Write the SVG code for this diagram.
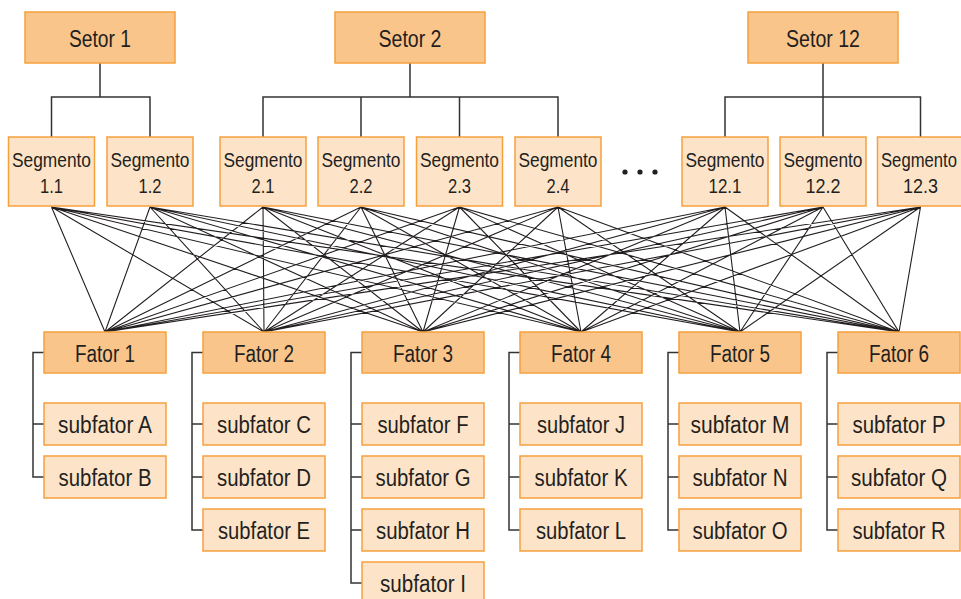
<svg xmlns="http://www.w3.org/2000/svg" width="961" height="599" viewBox="0 0 961 599">
<style>
.dk{fill:#FAC58B;stroke:#F6A03C;stroke-width:1.5}
.lt{fill:#FDE4C8;stroke:#F6A03C;stroke-width:1.5}
text{font-family:"Liberation Sans",Arial,sans-serif;fill:#231F20;text-anchor:middle}
.h{font-size:23.5px}
.s{font-size:21px}
.f{font-size:23px}
.tree{fill:none;stroke:#333;stroke-width:1.5}
.web{fill:none;stroke:#231F20;stroke-width:1.1}
</style>
<rect width="961" height="599" fill="#fff"/>
<g id="connectors">
<path class="tree" d="M100,63V97M51.5,137V97H150V137M410,63V97M263,137V97H558V137M361,97V137M459.5,97V137M823,63V97M725,137V97H920.5V137M823,97V137"/>
<path class="tree" d="M44,352.5H33V477H44M33,424H44
M203,352.5H192V530H203M192,424H203M192,477H203
M362,352.5H351V583H362M351,424H362M351,477H362M351,530H362
M520,352.5H509V530H520M509,424H520M509,477H520
M679,352.5H668V530H679M668,424H679M668,477H679
M838,352.5H827V530H838M827,424H838M827,477H838"/>
<path class="web" d="M51.5,207L105,332M51.5,207L264,332M51.5,207L423,332M51.5,207L581,332M51.5,207L740,332M51.5,207L899,332
M150,207L105,332M150,207L264,332M150,207L423,332M150,207L581,332M150,207L740,332M150,207L899,332
M263,207L105,332M263,207L264,332M263,207L423,332M263,207L581,332M263,207L740,332M263,207L899,332
M361,207L105,332M361,207L264,332M361,207L423,332M361,207L581,332M361,207L740,332M361,207L899,332
M459.5,207L105,332M459.5,207L264,332M459.5,207L423,332M459.5,207L581,332M459.5,207L740,332M459.5,207L899,332
M558,207L105,332M558,207L264,332M558,207L423,332M558,207L581,332M558,207L740,332M558,207L899,332
M725,207L105,332M725,207L264,332M725,207L423,332M725,207L581,332M725,207L740,332M725,207L899,332
M823,207L105,332M823,207L264,332M823,207L423,332M823,207L581,332M823,207L740,332M823,207L899,332
M920.5,207L105,332M920.5,207L264,332M920.5,207L423,332M920.5,207L581,332M920.5,207L740,332M920.5,207L899,332"/>
</g>
<g id="setor1"><rect class="dk" x="25" y="12" width="150" height="51"/><text class="h" x="100" y="47" textLength="62" lengthAdjust="spacingAndGlyphs">Setor 1</text></g>
<g id="setor2"><rect class="dk" x="335" y="12" width="150" height="51"/><text class="h" x="410" y="47" textLength="63" lengthAdjust="spacingAndGlyphs">Setor 2</text></g>
<g id="setor12"><rect class="dk" x="748" y="12" width="150" height="51"/><text class="h" x="823" y="47" textLength="74" lengthAdjust="spacingAndGlyphs">Setor 12</text></g>

<g id="seg1-1"><rect class="lt" x="8.5" y="137" width="86" height="69"/><text class="s" x="51.5" y="167" textLength="79" lengthAdjust="spacingAndGlyphs">Segmento</text><text class="s" x="51.5" y="193" textLength="23" lengthAdjust="spacingAndGlyphs">1.1</text></g>
<g id="seg1-2"><rect class="lt" x="107" y="137" width="86" height="69"/><text class="s" x="150" y="167" textLength="79" lengthAdjust="spacingAndGlyphs">Segmento</text><text class="s" x="150" y="193" textLength="23" lengthAdjust="spacingAndGlyphs">1.2</text></g>
<g id="seg2-1"><rect class="lt" x="220" y="137" width="86" height="69"/><text class="s" x="263" y="167" textLength="79" lengthAdjust="spacingAndGlyphs">Segmento</text><text class="s" x="263" y="193" textLength="23" lengthAdjust="spacingAndGlyphs">2.1</text></g>
<g id="seg2-2"><rect class="lt" x="318" y="137" width="86" height="69"/><text class="s" x="361" y="167" textLength="79" lengthAdjust="spacingAndGlyphs">Segmento</text><text class="s" x="361" y="193" textLength="23" lengthAdjust="spacingAndGlyphs">2.2</text></g>
<g id="seg2-3"><rect class="lt" x="416.5" y="137" width="86" height="69"/><text class="s" x="459.5" y="167" textLength="79" lengthAdjust="spacingAndGlyphs">Segmento</text><text class="s" x="459.5" y="193" textLength="23" lengthAdjust="spacingAndGlyphs">2.3</text></g>
<g id="seg2-4"><rect class="lt" x="515" y="137" width="86" height="69"/><text class="s" x="558" y="167" textLength="79" lengthAdjust="spacingAndGlyphs">Segmento</text><text class="s" x="558" y="193" textLength="23" lengthAdjust="spacingAndGlyphs">2.4</text></g>
<g id="ellipsis"><circle cx="625" cy="172" r="2.6" fill="#231F20"/><circle cx="640" cy="172" r="2.6" fill="#231F20"/><circle cx="655" cy="172" r="2.6" fill="#231F20"/></g>
<g id="seg12-1"><rect class="lt" x="682" y="137" width="86" height="69"/><text class="s" x="725" y="167" textLength="79" lengthAdjust="spacingAndGlyphs">Segmento</text><text class="s" x="725" y="193" textLength="33" lengthAdjust="spacingAndGlyphs">12.1</text></g>
<g id="seg12-2"><rect class="lt" x="780" y="137" width="86" height="69"/><text class="s" x="823" y="167" textLength="79" lengthAdjust="spacingAndGlyphs">Segmento</text><text class="s" x="823" y="193" textLength="35" lengthAdjust="spacingAndGlyphs">12.2</text></g>
<g id="seg12-3"><rect class="lt" x="877.5" y="137" width="86" height="69"/><text class="s" x="919" y="167" textLength="76" lengthAdjust="spacingAndGlyphs">Segmento</text><text class="s" x="920.5" y="193" textLength="35" lengthAdjust="spacingAndGlyphs">12.3</text></g>

<g id="fator1"><rect class="dk" x="44" y="332" width="122" height="41"/><text class="h" x="105" y="362" textLength="60" lengthAdjust="spacingAndGlyphs">Fator 1</text></g>
<g id="fator2"><rect class="dk" x="203" y="332" width="122" height="41"/><text class="h" x="264" y="362" textLength="60" lengthAdjust="spacingAndGlyphs">Fator 2</text></g>
<g id="fator3"><rect class="dk" x="362" y="332" width="122" height="41"/><text class="h" x="423" y="362" textLength="60" lengthAdjust="spacingAndGlyphs">Fator 3</text></g>
<g id="fator4"><rect class="dk" x="520" y="332" width="122" height="41"/><text class="h" x="581" y="362" textLength="60" lengthAdjust="spacingAndGlyphs">Fator 4</text></g>
<g id="fator5"><rect class="dk" x="679" y="332" width="122" height="41"/><text class="h" x="740" y="362" textLength="60" lengthAdjust="spacingAndGlyphs">Fator 5</text></g>
<g id="fator6"><rect class="dk" x="838" y="332" width="122" height="41"/><text class="h" x="899" y="362" textLength="60" lengthAdjust="spacingAndGlyphs">Fator 6</text></g>

<g id="subA"><rect class="lt" x="44" y="403" width="122" height="42"/><text class="f" x="105" y="433" textLength="94" lengthAdjust="spacingAndGlyphs">subfator A</text></g>
<g id="subB"><rect class="lt" x="44" y="456" width="122" height="42"/><text class="f" x="105" y="486" textLength="93" lengthAdjust="spacingAndGlyphs">subfator B</text></g>
<g id="subC"><rect class="lt" x="203" y="403" width="122" height="42"/><text class="f" x="264" y="433" textLength="94" lengthAdjust="spacingAndGlyphs">subfator C</text></g>
<g id="subD"><rect class="lt" x="203" y="456" width="122" height="42"/><text class="f" x="264" y="486" textLength="94" lengthAdjust="spacingAndGlyphs">subfator D</text></g>
<g id="subE"><rect class="lt" x="203" y="509" width="122" height="42"/><text class="f" x="264" y="539" textLength="92" lengthAdjust="spacingAndGlyphs">subfator E</text></g>
<g id="subF"><rect class="lt" x="362" y="403" width="122" height="42"/><text class="f" x="423" y="433" textLength="91" lengthAdjust="spacingAndGlyphs">subfator F</text></g>
<g id="subG"><rect class="lt" x="362" y="456" width="122" height="42"/><text class="f" x="423" y="486" textLength="95" lengthAdjust="spacingAndGlyphs">subfator G</text></g>
<g id="subH"><rect class="lt" x="362" y="509" width="122" height="42"/><text class="f" x="423" y="539" textLength="94" lengthAdjust="spacingAndGlyphs">subfator H</text></g>
<g id="subI"><rect class="lt" x="362" y="562" width="122" height="42"/><text class="f" x="423" y="592" textLength="86" lengthAdjust="spacingAndGlyphs">subfator I</text></g>
<g id="subJ"><rect class="lt" x="520" y="403" width="122" height="42"/><text class="f" x="581" y="433" textLength="88" lengthAdjust="spacingAndGlyphs">subfator J</text></g>
<g id="subK"><rect class="lt" x="520" y="456" width="122" height="42"/><text class="f" x="581" y="486" textLength="93" lengthAdjust="spacingAndGlyphs">subfator K</text></g>
<g id="subL"><rect class="lt" x="520" y="509" width="122" height="42"/><text class="f" x="581" y="539" textLength="90" lengthAdjust="spacingAndGlyphs">subfator L</text></g>
<g id="subM"><rect class="lt" x="679" y="403" width="122" height="42"/><text class="f" x="740" y="433" textLength="99" lengthAdjust="spacingAndGlyphs">subfator M</text></g>
<g id="subN"><rect class="lt" x="679" y="456" width="122" height="42"/><text class="f" x="740" y="486" textLength="95" lengthAdjust="spacingAndGlyphs">subfator N</text></g>
<g id="subO"><rect class="lt" x="679" y="509" width="122" height="42"/><text class="f" x="740" y="539" textLength="95" lengthAdjust="spacingAndGlyphs">subfator O</text></g>
<g id="subP"><rect class="lt" x="838" y="403" width="122" height="42"/><text class="f" x="899" y="433" textLength="93" lengthAdjust="spacingAndGlyphs">subfator P</text></g>
<g id="subQ"><rect class="lt" x="838" y="456" width="122" height="42"/><text class="f" x="899" y="486" textLength="96" lengthAdjust="spacingAndGlyphs">subfator Q</text></g>
<g id="subR"><rect class="lt" x="838" y="509" width="122" height="42"/><text class="f" x="899" y="539" textLength="93" lengthAdjust="spacingAndGlyphs">subfator R</text></g>
</svg>
